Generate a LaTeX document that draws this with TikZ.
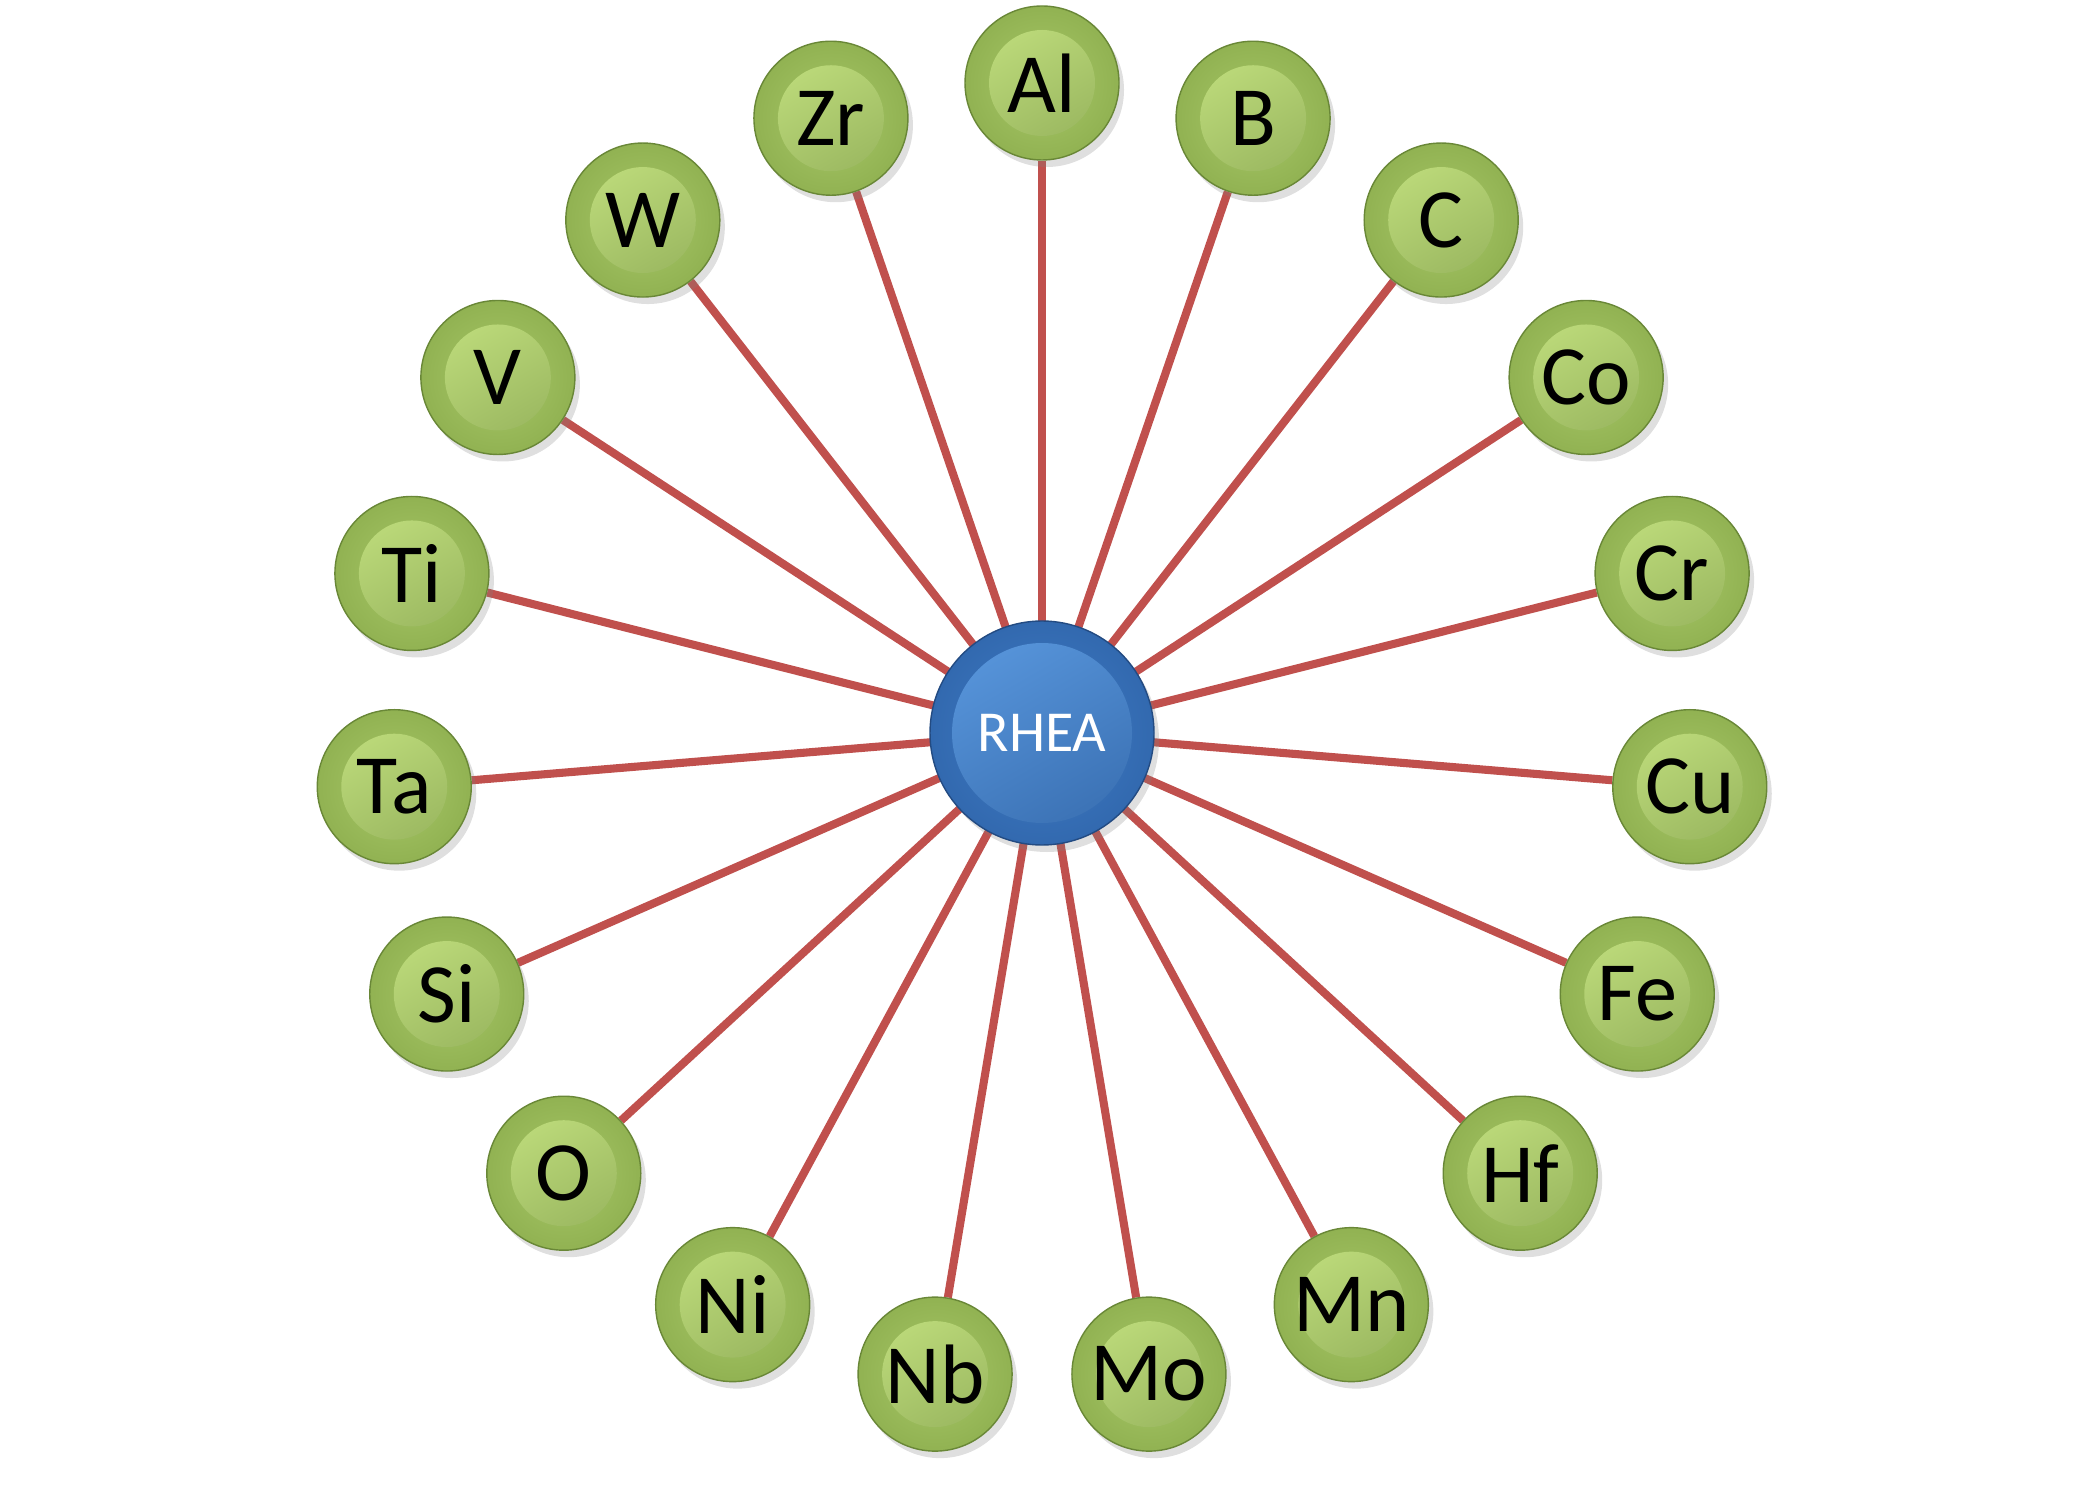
\documentclass[tikz,border=0pt]{standalone}
\usepackage{fontspec}
\setmainfont{Carlito}
\usetikzlibrary{shadows,calc,backgrounds}
\usepackage{xcolor}
\definecolor{lnred}{RGB}{192,80,77}
\definecolor{grlt}{RGB}{192,222,125}
\definecolor{grmd}{RGB}{168,200,104}
\definecolor{grdk}{RGB}{145,178,82}
\definecolor{grln}{RGB}{105,135,55}
\definecolor{bllt}{RGB}{88,150,220}
\definecolor{blmd}{RGB}{64,124,198}
\definecolor{bldk}{RGB}{50,105,175}
\definecolor{blln}{RGB}{35,75,130}

\begin{document}
\begin{tikzpicture}[
  dr/.style={drop shadow={shadow xshift=.05cm,shadow yshift=-.07cm,opacity=.25}},%
  e/.style={line width=2.3pt,draw=lnred},%
  g/.style={circle,minimum size=1.54cm,inner sep=0pt,draw=grln,%
    inner color=grmd,outer color=grdk,text=black,font=\fontsize{24}{24}\selectfont,%
    path picture={\shade[top color=grlt,bottom color=grmd!90!black,shading angle=30]
      (path picture bounding box.center) circle (.53cm);}},%
  b/.style={circle,minimum size=2.24cm,inner sep=0pt,draw=blln,%
    inner color=blmd,outer color=bldk,text=white,font=\fontsize{16.5}{16.5}\selectfont,%
    path picture={\shade[top color=bllt,bottom color=blmd!90!black,shading angle=30]
      (path picture bounding box.center) circle (.9cm);}},%
  ]
  \useasboundingbox (0,0) rectangle (20.79,14.86);

  \node (rhea) [b,dr] at (10.42,7.53) {RHEA};

  \node (al) [g,dr] at ($(rhea)+(90:6.5)$) {Al};
  \node (b) [g,dr] at ($(rhea)+(71.05:6.5)$) {B};
  \node (c) [g,dr] at ($(rhea)+(52.11:6.5)$) {C};
  \node (co) [g,dr] at ($(rhea)+(33.16:6.5)$) {Co};
  \node (cr) [g,dr] at ($(rhea)+(14.21:6.5)$) {Cr};
  \node (cu) [g,dr] at ($(rhea)+(-4.74:6.5)$) {Cu};
  \node (fe) [g,dr] at ($(rhea)+(-23.68:6.5)$) {Fe};
  \node (hf) [g,dr] at ($(rhea)+(-42.63:6.5)$) {Hf};
  \node (mn) [g,dr] at ($(rhea)+(-61.58:6.5)$) {Mn};
  \node (mo) [g,dr] at ($(rhea)+(-80.53:6.5)$) {Mo};
  \node (nb) [g,dr] at ($(rhea)+(-99.47:6.5)$) {Nb};
  \node (ni) [g,dr] at ($(rhea)+(-118.42:6.5)$) {Ni};
  \node (o) [g,dr] at ($(rhea)+(-137.37:6.5)$) {O};
  \node (si) [g,dr] at ($(rhea)+(-156.32:6.5)$) {Si};
  \node (ta) [g,dr] at ($(rhea)+(-175.26:6.5)$) {Ta};
  \node (ti) [g,dr] at ($(rhea)+(165.79:6.5)$) {Ti};
  \node (v) [g,dr] at ($(rhea)+(146.84:6.5)$) {V};
  \node (w) [g,dr] at ($(rhea)+(127.89:6.5)$) {W};
  \node (zr) [g,dr] at ($(rhea)+(108.95:6.5)$) {Zr};

  \begin{scope}[on background layer]
  \draw [e] (rhea.center) -- (al);
  \draw [e] (rhea.center) -- (b);
  \draw [e] (rhea.center) -- (c);
  \draw [e] (rhea.center) -- (co);
  \draw [e] (rhea.center) -- (cr);
  \draw [e] (rhea.center) -- (cu);
  \draw [e] (rhea.center) -- (fe);
  \draw [e] (rhea.center) -- (hf);
  \draw [e] (rhea.center) -- (mn);
  \draw [e] (rhea.center) -- (mo);
  \draw [e] (rhea.center) -- (nb);
  \draw [e] (rhea.center) -- (ni);
  \draw [e] (rhea.center) -- (o);
  \draw [e] (rhea.center) -- (si);
  \draw [e] (rhea.center) -- (ta);
  \draw [e] (rhea.center) -- (ti);
  \draw [e] (rhea.center) -- (v);
  \draw [e] (rhea.center) -- (w);
  \draw [e] (rhea.center) -- (zr);
  \end{scope}
\end{tikzpicture}
\end{document}
